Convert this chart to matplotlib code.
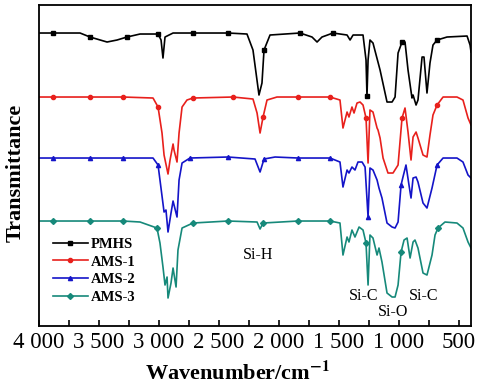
import numpy as np
import matplotlib
matplotlib.use("Agg")
import matplotlib.pyplot as plt

plt.rcParams['font.family'] = ['Liberation Serif', 'DejaVu Serif']
plt.rcParams['mathtext.fontset'] = 'stix'

# wavenumber (cm-1) and transmittance (arbitrary offset units)
pmhs_w = [4000, 3883, 3658, 3575, 3433, 3350, 3267, 3158, 3008, 2983, 2967, 2950, 2883,
          2717, 2425, 2267, 2217, 2167, 2142, 2125, 2075, 1825, 1725, 1683, 1642, 1550,
          1433, 1408, 1383, 1300, 1275, 1267, 1258, 1242, 1217, 1158, 1100, 1058, 1033,
          1008, 975, 950, 925, 892, 883, 858, 842, 808, 792, 767, 742, 717, 683, 600,
          433, 408, 400]
pmhs_t = [293, 293, 293, 289, 284, 286, 289, 292, 292, 286, 268, 289, 293,
          293, 293, 292, 276, 231, 243, 276, 291, 293, 289, 284, 289, 293,
          291, 286, 291, 291, 266, 230, 266, 286, 283, 256, 224, 224, 229,
          273, 284, 284, 256, 228, 231, 221, 226, 269, 269, 233, 263, 281, 286, 289,
          290, 281, 274]

ams1_w = [4000, 3883, 3575, 3300, 3050, 3008, 2975, 2958, 2925, 2908, 2883, 2875, 2850,
          2833, 2808, 2767, 2717, 2383, 2217, 2183, 2158, 2133, 2100, 2017, 1842, 1575,
          1492, 1467, 1433, 1417, 1392, 1375, 1350, 1325, 1300, 1275, 1258, 1242, 1217,
          1183, 1175, 1158, 1133, 1092, 1050, 1008, 975, 950, 925, 900, 883, 858, 842,
          800, 767, 742, 717, 683, 633, 517, 467, 425, 400]
ams1_t = [229, 229, 229, 229, 228, 219, 193, 171, 152, 166, 182, 176, 164,
          193, 219, 226, 228, 229, 227, 213, 193, 209, 226, 229, 229, 229,
          226, 198, 214, 209, 219, 213, 223, 224, 221, 208, 163, 216, 214,
          198, 196, 188, 168, 153, 153, 161, 208, 218, 194, 166, 189, 194, 188,
          171, 169, 191, 211, 221, 229, 229, 226, 208, 201]

ams2_w = [4000, 3883, 3575, 3300, 3050, 3008, 2992, 2958, 2942, 2925, 2900, 2883, 2850,
          2833, 2808, 2742, 2425, 2200, 2158, 2125, 2033, 1842, 1575, 1492, 1467, 1433,
          1417, 1392, 1367, 1342, 1308, 1283, 1258, 1242, 1217, 1183, 1167, 1142, 1100,
          1058, 1033, 1008, 983, 967, 942, 917, 900, 883, 858, 842, 800, 767, 725, 683,
          633, 517, 467, 425, 400]
ams2_t = [168, 168, 168, 168, 168, 161, 146, 114, 116, 94, 113, 125, 109,
          146, 163, 168, 169, 167, 154, 167, 169, 168, 168, 164, 139, 156,
          153, 159, 156, 164, 164, 159, 109, 158, 156, 146, 138, 128, 103,
          99, 98, 104, 141, 149, 161, 141, 128, 148, 149, 144, 123, 118, 138, 161,
          168, 168, 164, 151, 148]

ams3_w = [4000, 3883, 3575, 3300, 3158, 3017, 2992, 2967, 2950, 2933, 2925, 2900, 2883,
          2858, 2842, 2808, 2717, 2425, 2183, 2158, 2133, 1842, 1575, 1492, 1467, 1433,
          1417, 1392, 1367, 1333, 1300, 1275, 1258, 1242, 1217, 1183, 1167, 1142, 1100,
          1058, 1033, 1008, 983, 958, 933, 908, 883, 867, 842, 800, 767, 725, 700, 675,
          617, 517, 467, 425, 400]
ams3_t = [105, 105, 105, 105, 104, 98, 83, 59, 41, 49, 28, 43, 58,
          39, 76, 98, 103, 105, 104, 97, 103, 105, 105, 103, 71, 89,
          84, 96, 89, 99, 96, 83, 41, 91, 88, 71, 78, 64, 33,
          29, 29, 41, 74, 86, 88, 68, 84, 86, 78, 53, 51, 71, 91, 98,
          104, 103, 98, 84, 78]

names = ['PMHS', 'AMS-1', 'AMS-2', 'AMS-3']
colors = ['#000000', '#e8201c', '#1414c8', '#16897a']
markers = ['s', 'o', '^', 'D']
marker_w = [3883, 3575, 3300, 3008, 2717, 2425, 2133, 1842, 1550, 1267, 975, 683]

tick_pos = [4000, 3500, 3000, 2500, 2000, 1500, 1000, 500]
tick_txt = ['4 000', '3 500', '3 000', '2 500', '2 000', '1 500', '1 000', '500']

fig = plt.figure(figsize=(4.84, 3.86), dpi=100)
ax = fig.add_axes([0.0806, 0.1554, 0.8916, 0.8316])

series = [(pmhs_w, pmhs_t), (ams1_w, ams1_t), (ams2_w, ams2_t), (ams3_w, ams3_t)]
for (w, t), name, c, m in zip(series, names, colors, markers):
    w = np.array(w)
    idx = [int(np.argmin(np.abs(w - g))) for g in marker_w]
    ax.plot(w, t, color=c, lw=1.2, marker=m, ms=3, markevery=idx, label=name,
            solid_joinstyle='round')

ax.set_xlim(4000, 404)
ax.set_ylim(0, 321)
ax.set_xticks(tick_pos)
ax.set_xticklabels(tick_txt, fontsize=16.5)
ax.set_xticks(np.arange(3750, 500, -500), minor=True)
ax.set_yticks([])
ax.tick_params(axis='x', which='both', direction='in', length=4, width=1.2, pad=4)
for s in ax.spines.values():
    s.set_linewidth(1.3)

ax.set_xlabel('Wavenumber/cm$^{\\mathbf{-1}}$', fontsize=16, fontweight='bold')
ax.xaxis.set_label_coords(0.46, -0.11)
ax.set_ylabel('Transmittance', fontsize=16, fontweight='bold')
ax.yaxis.set_label_coords(-0.032, 0.477)

ax.text(2175, 71, 'Si-H', fontsize=11.5, ha='center', va='center')
ax.text(1292, 30, 'Si-C', fontsize=11.5, ha='center', va='center')
ax.text(1050, 14, 'Si-O', fontsize=11.5, ha='center', va='center')
ax.text(792, 30, 'Si-C', fontsize=11.5, ha='center', va='center')

ax.legend(loc='upper left', bbox_to_anchor=(0.032, 0.275), frameon=False,
          prop={'weight': 'bold', 'size': 10.5}, handlelength=2.4,
          handletextpad=0.2, labelspacing=0.3, borderpad=0, borderaxespad=0)

fig.savefig('out.png', dpi=100)
